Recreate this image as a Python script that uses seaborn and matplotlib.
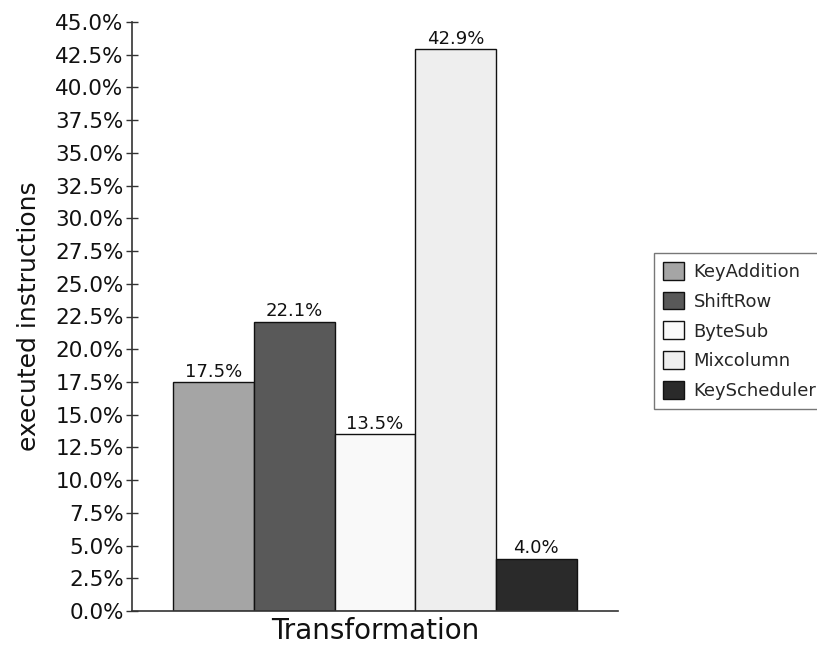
import matplotlib
matplotlib.use("Agg")
import matplotlib.pyplot as plt
import seaborn as sns
import pandas as pd
from matplotlib.ticker import MultipleLocator, FuncFormatter

stages = ["KeyAddition", "ShiftRow", "ByteSub", "Mixcolumn", "KeyScheduler"]
shares = [17.5, 22.1, 13.5, 42.9, 4.0]
group = ["Transformation"] * len(stages)
shades = ["#a5a5a5", "#595959", "#f9f9f9", "#eeeeee", "#2a2a2a"]

df = pd.DataFrame({"group": group, "stage": stages, "share": shares})

sns.set_theme(style="white")
plt.rcParams["font.family"] = ["DejaVu Sans"]

fig = plt.figure(figsize=(8.17, 6.53), dpi=100)
ax = fig.add_axes([132 / 817, 42 / 653, 486 / 817, 589 / 653])

sns.barplot(data=df, x="group", y="share", hue="stage", hue_order=stages,
            palette=shades, width=0.83, edgecolor="#111111", linewidth=1.0,
            saturation=1, ax=ax, legend=False)

for cont in ax.containers:
    ax.bar_label(cont, fmt="%.1f%%", padding=1, fontsize=13, color="#111111")

ax.set_ylim(0, 45)
ax.set_xlim(-0.5, 0.5)
ax.yaxis.set_major_locator(MultipleLocator(2.5))
ax.yaxis.set_major_formatter(FuncFormatter(lambda v, p: f"{v:.1f}%"))
ax.tick_params(axis="y", left=True, direction="inout", length=8, width=1,
               colors="#333333", labelsize=15.5, labelcolor="#111111", pad=2)
ax.tick_params(axis="x", length=0, labelbottom=False)
ax.set_xlabel("Transformation", fontsize=20, color="#111111", labelpad=4)
ax.set_ylabel("executed instructions", fontsize=18, color="#111111", labelpad=10)

sns.despine(ax=ax)
for side in ("left", "bottom"):
    ax.spines[side].set_color("#333333")
    ax.spines[side].set_linewidth(1.2)

handles = [plt.Rectangle((0, 0), 1, 1, facecolor=c, edgecolor="#111111", linewidth=1.0)
           for c in shades]
leg = fig.legend(handles, stages, loc="center left", bbox_to_anchor=(654 / 817, 1 - 331 / 653),
                 fontsize=13, frameon=True, fancybox=False, handlelength=1.15,
                 handleheight=1.15, handletextpad=0.55, labelspacing=0.6,
                 borderpad=0.5, borderaxespad=0)
leg.get_frame().set_edgecolor("#555555")
leg.get_frame().set_linewidth(1.0)

fig.savefig("out.png", dpi=100)
